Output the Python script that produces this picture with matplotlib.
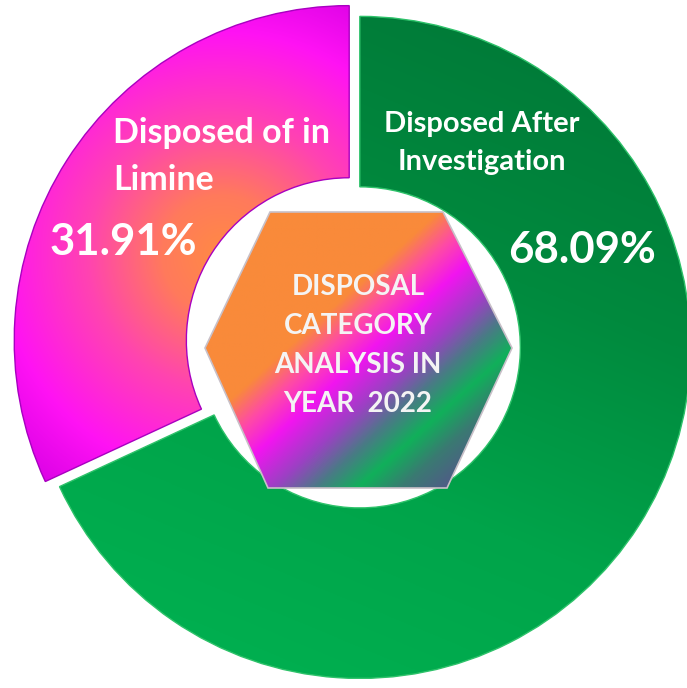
import numpy as np
import matplotlib.pyplot as plt
from matplotlib.colors import LinearSegmentedColormap
from matplotlib.patches import Polygon

# data
categories = ["Disposed After\nInvestigation", "Disposed of in\nLimine"]
shares = [68.09, 31.91]
centre_title = ["DISPOSAL", "CATEGORY", "ANALYSIS IN", "YEAR  2022"]

plt.rcParams['font.family'] = ['Lato', 'DejaVu Sans']

W, H = 687, 688
fig = plt.figure(figsize=(W / 100, H / 100), dpi=100)
ax = fig.add_axes([0, 0, 1, 1])

wedges, _ = ax.pie(shares, startangle=90, counterclock=False,
                   explode=[0.019, 0.019], radius=1.0,
                   wedgeprops=dict(width=0.515))
ax.set_xlim(-1.071, 1.0045)
ax.set_ylim(-1.039, 1.039)
ax.set_aspect('equal')
ax.axis('off')

green, pink = wedges
pink.set_radius(1.012)
pink.set_width(0.52)

# gradient grid over the whole axes
x0, x1 = ax.get_xlim()
y0, y1 = ax.get_ylim()
xx, yy = np.meshgrid(np.linspace(x0, x1, 700), np.linspace(y1, y0, 700))
ext = (x0, x1, y0, y1)

# green: dark at top right, bright at bottom
g_cmap = LinearSegmentedColormap.from_list(
    "g", ["#007a38", "#008a3e", "#00a44a", "#00b050"])
s = (-yy * 0.85 - xx * 0.35 + 1) / 2
im = ax.imshow(np.clip(s, 0, 1), cmap=g_cmap, extent=ext, vmin=0, vmax=1,
               interpolation='bilinear', zorder=1)
im.set_clip_path(green)
green.set_facecolor('none')
green.set_edgecolor('#2ec26a')
green.set_linewidth(1.0)
green.set_zorder(2)

# pink: orange core, magenta rim
p_cmap = LinearSegmentedColormap.from_list(
    "p", [(0, "#ff8a44"), (0.2, "#ff7a5c"), (0.45, "#ff44b0"),
          (0.75, "#ff12f4"), (1, "#d800e4")])
d = np.hypot(xx + 0.40, yy - 0.27) / 0.9
im = ax.imshow(np.clip(d, 0, 1), cmap=p_cmap, extent=ext, vmin=0, vmax=1,
               interpolation='bilinear', zorder=1)
im.set_clip_path(pink)
pink.set_facecolor('none')
pink.set_edgecolor('#a800c0')
pink.set_linewidth(1.0)
pink.set_zorder(2)

# centre hexagon
sc = 331.0
cx, cy = 354.5, 344.0
hex_px = [(205, 348), (270, 212), (443, 212), (512, 348), (447, 488), (268, 488)]
hex_xy = [((px - cx) / sc, (cy - py) / sc) for px, py in hex_px]
hexagon = Polygon(hex_xy, closed=True, facecolor='none',
                  edgecolor='#c8c0c8', linewidth=1.2, zorder=4)
ax.add_patch(hexagon)
h_cmap = LinearSegmentedColormap.from_list(
    "h", [(0, "#f98a3a"), (0.38, "#f98a3a"), (0.45, "#ff4aa6"),
          (0.52, "#f214f0"), (0.61, "#9c40c4"), (0.68, "#4a7a86"),
          (0.75, "#10b05a"), (0.82, "#3a7a72"), (0.9, "#515a88"),
          (1, "#6e4890")])
hx = np.array(hex_xy)
u = (xx - hx[:, 0].min()) / np.ptp(hx[:, 0])
v = (hx[:, 1].max() - yy) / np.ptp(hx[:, 1])
im = ax.imshow(np.clip((u + v) / 2, 0, 1), cmap=h_cmap, extent=ext,
               vmin=0, vmax=1, interpolation='bilinear', zorder=3)
im.set_clip_path(hexagon)


def fpos(px, py):
    return px / W, 1 - py / H


# labels drawn line by line (baseline positions in pixels)
for i, line in enumerate(categories[1].split("\n")):
    fig.text(*fpos(113, 143 + 47 * i), line, color='white', fontsize=24.5,
             fontweight='bold', ha='left', va='baseline')
fig.text(*fpos(50, 255), f"{shares[1]:.2f}%", color='white', fontsize=31.5,
         fontweight='bold', ha='left', va='baseline')

for i, line in enumerate(categories[0].split("\n")):
    fig.text(*fpos(482, 132 + 38 * i), line, color='white', fontsize=21,
             fontweight='bold', ha='center', va='baseline')
fig.text(*fpos(582, 263), f"{shares[0]:.2f}%", color='white', fontsize=31.5,
         fontweight='bold', ha='center', va='baseline')

for i, line in enumerate(centre_title):
    fig.text(*fpos(358, 295 + 39 * i), line, color='#f4f4f4', fontsize=20,
             fontweight='bold', ha='center', va='baseline', zorder=5)

fig.savefig("out.png", dpi=100)
